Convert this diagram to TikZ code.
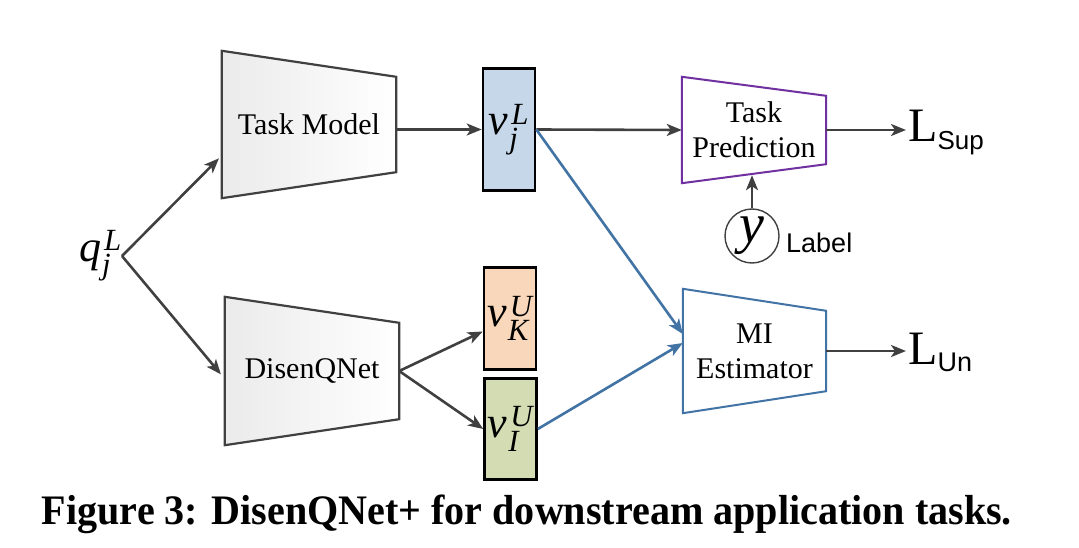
\documentclass[tikz,border=0pt]{standalone}
\usepackage{fontspec}
\usepackage{amsmath}
\usepackage{graphicx}
\setmainfont{Liberation Serif}
\newfontfamily\lsans{Liberation Sans}
\usetikzlibrary{arrows.meta,backgrounds}

\definecolor{linegray}{RGB}{64,64,64}
\definecolor{miblue}{RGB}{65,115,165}
\definecolor{tppurple}{RGB}{112,48,160}
\definecolor{vjfill}{RGB}{197,215,233}
\definecolor{vkfill}{RGB}{248,215,186}
\definecolor{vifill}{RGB}{212,220,180}

\newcommand{\iv}[1]{\text{\itshape #1}}
\newcommand{\emb}[3]{$\iv{#1}^{\kern3pt\iv{#2}}_{\kern1pt\iv{#3}}$}
\newcommand{\trapz}[3]{\draw[#3] (#1.north west) -- ([yshift=-#2]#1.north east)
  -- ([yshift=#2]#1.south east) -- (#1.south west) -- cycle;}

\tikzset{
  net/.style={inner sep=0pt, font=\fontsize{30}{35}\selectfont, align=center},
  trap/.style={line width=2.2pt, draw=linegray, left color=gray!16, right color=white},
  emb/.style={draw=black, line width=2.6pt, minimum width=52pt, inner sep=0pt, font=\fontsize{44}{44}\selectfont},
  arr/.style={line width=2.6pt, draw=linegray, -{Stealth[length=15pt,width=12pt,inset=4pt]}},
  barr/.style={arr, draw=miblue},
  loss/.style={anchor=base west, inner sep=0pt, font=\fontsize{48}{48}\selectfont},
}

\begin{document}
\begin{tikzpicture}[x=1pt, y=-1pt]
  \useasboundingbox (0,0) rectangle (1079,548);
  \node[net, minimum width=174pt, minimum height=147pt] (tm) at (309,124.5) {Task Model};
  \node[net, minimum width=174pt, minimum height=148pt] (dq) at (312,371) {DisenQNet};
  \node[net, minimum width=144pt, minimum height=106pt] (tp) at (754,130) {Task\\Prediction};
  \node[net, minimum width=143pt, minimum height=124pt] (mi) at (754.5,351) {MI\\Estimator};
  \begin{pgfonlayer}{background}
    \trapz{tm}{26pt}{trap}
    \trapz{dq}{26pt}{trap}
    \trapz{tp}{19pt}{line width=2pt, draw=tppurple}
    \trapz{mi}{22pt}{line width=2pt, draw=miblue}
  \end{pgfonlayer}

  \node[emb, fill=vjfill, minimum height=122pt] (vjl) at (509,129.5) {\emb{v}{L}{j}};
  \node[emb, fill=vkfill, minimum height=102pt] (vku) at (510,318.5) {\emb{v}{U}{K}};
  \node[emb, fill=vifill, minimum height=101pt] (viu) at (510.5,429) {\emb{v}{U}{I}};

  \node[inner sep=0pt, anchor=east, font=\fontsize{44}{44}\selectfont] (q) at (122,256) {\emb{q}{L}{j}};
  \node[circle, draw=linegray, line width=1.4pt, minimum size=54pt, inner sep=0pt,
    font=\fontsize{56}{56}\selectfont\itshape] (ylab) at (752,236) {y};
  \node[anchor=base west, inner sep=0pt, font=\lsans\fontsize{27}{27}\selectfont] (labtxt) at (786,253) {Label};
  \node[loss] (lsup) at (908,142) {L\raisebox{-8pt}{\lsans\fontsize{26}{26}\selectfont Sup}};
  \node[loss] (lun) at (908,364) {L\raisebox{-7pt}{\lsans\fontsize{27}{27}\selectfont Un}};

  \draw[arr, shorten >=4pt] (q.east) -- ([yshift=-31pt]tm.west);
  \draw[arr, shorten >=6pt] (q.east) -- ([yshift=-8pt]dq.west);
  \draw[arr] (vjl.west -| tm.east) -- (vjl.west);
  \draw[arr] (vjl.east) -- (tp.west);
  \draw[arr, shorten >=2pt] (tp.east) -- (tp.east -| lsup.west);
  \draw[arr] (ylab.north) -- ([xshift=-2pt,yshift=8pt]tp.south);
  \draw[arr] (dq.east) -- ([yshift=-13pt]vku.west);
  \draw[arr] (dq.east) -- (viu.west);
  \draw[arr, shorten >=2pt] (mi.east) -- (mi.east -| lun.west);
  \draw[barr] (vjl.east) -- ([yshift=17pt]mi.west);
  \draw[barr] (viu.east) -- ([yshift=8pt]mi.west);

  \node[anchor=base, inner sep=0pt, font=\fontsize{42}{42}\selectfont\bfseries] (cap) at (527,524)
    {\resizebox{970pt}{\height}{Figure 3: DisenQNet+ for downstream application tasks.}};
\end{tikzpicture}
\end{document}
